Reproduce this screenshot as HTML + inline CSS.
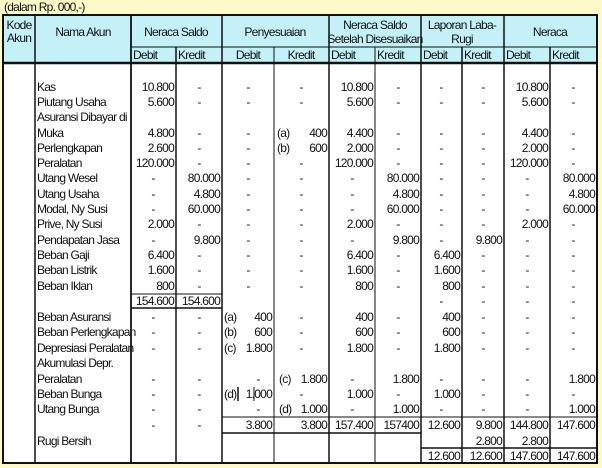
<!DOCTYPE html>
<html><head><meta charset="utf-8"><style>
body{margin:0;background:#fdf9c9;}
svg{display:block}
text{font-family:"Liberation Sans",Arial,sans-serif;font-size:12px;letter-spacing:-0.75px;fill:#111}
.n{text-anchor:end}.d{text-anchor:middle}.h{font-size:12px}
</style></head><body>
<svg width="602" height="468" viewBox="0 0 602 468" xmlns="http://www.w3.org/2000/svg">
<rect width="602" height="468" fill="#fdf9c9"/>
<text x="4" y="11">(dalam Rp. 000,-)</text>
<rect x="3" y="15" width="594" height="448" fill="#fff"/>
<rect x="3" y="15" width="594" height="48" fill="#c4f1f8"/>
<g stroke="#111" stroke-width="1" fill="none">
<rect x="3" y="15" width="594" height="448" stroke-width="2"/>
<line x1="3" y1="63" x2="597" y2="63" stroke-width="2.5"/>
<line x1="131" y1="47" x2="597" y2="47"/>
<line x1="35" y1="15" x2="35" y2="463" stroke-width="1.5"/>
<line x1="131" y1="15" x2="131" y2="463" stroke-width="1.8"/>
<line x1="176" y1="47" x2="176" y2="463" stroke-width="1.5"/>
<line x1="222" y1="15" x2="222" y2="463" stroke-width="1.5"/>
<line x1="274" y1="47" x2="274" y2="463"/>
<line x1="329" y1="15" x2="329" y2="463" stroke-width="1.5"/>
<line x1="375" y1="47" x2="375" y2="463"/>
<line x1="421" y1="15" x2="421" y2="463" stroke-width="1.5"/>
<line x1="462" y1="47" x2="462" y2="463" stroke-width="1.5"/>
<line x1="504" y1="15" x2="504" y2="463" stroke-width="1.5"/>
<line x1="550" y1="47" x2="550" y2="463" stroke-width="1.5"/>
<line x1="131" y1="294" x2="222" y2="294"/>
<line x1="131" y1="308" x2="222" y2="308" stroke-width="1.5"/>
<line x1="222" y1="417" x2="597" y2="417"/>
<line x1="222" y1="433" x2="421" y2="433" stroke-width="1.5"/>
<line x1="421" y1="448" x2="597" y2="448" stroke-width="1.5"/>
<line x1="238" y1="387" x2="238" y2="401" stroke-width="1.5"/>
<line x1="254" y1="387" x2="254" y2="401"/>
</g>
<g class="h">
<text x="19" y="29" class="d">Kode</text><text x="19" y="42" class="d">Akun</text>
<text x="83" y="36" class="d">Nama Akun</text>
<text x="176" y="36" class="d">Neraca Saldo</text>
<text x="275" y="36" class="d">Penyesuaian</text>
<text x="375" y="29" class="d">Neraca Saldo</text><text x="375" y="43" class="d">Setelah Disesuaikan</text>
<text x="462" y="29" class="d">Laporan Laba-</text><text x="462" y="43" class="d">Rugi</text>
<text x="550" y="36" class="d">Neraca</text>
<text x="133" y="59">Debit</text><text x="178" y="59">Kredit</text>
<text x="248" y="59" class="d">Debit</text><text x="301" y="59" class="d">Kredit</text>
<text x="331" y="59">Debit</text><text x="377" y="59">Kredit</text>
<text x="423" y="59">Debit</text><text x="464" y="59">Kredit</text>
<text x="506" y="59">Debit</text><text x="552" y="59">Kredit</text>
</g>
<g>
<text x="37" y="91">Kas</text>
<text x="37" y="106">Piutang Usaha</text>
<text x="37" y="121">Asuransi Dibayar di</text>
<text x="37" y="137">Muka</text>
<text x="37" y="152">Perlengkapan</text>
<text x="37" y="167">Peralatan</text>
<text x="37" y="182">Utang Wesel</text>
<text x="37" y="198">Utang Usaha</text>
<text x="37" y="213">Modal, Ny Susi</text>
<text x="37" y="228">Prive, Ny Susi</text>
<text x="37" y="244">Pendapatan Jasa</text>
<text x="37" y="259">Beban Gaji</text>
<text x="37" y="274">Beban Listrik</text>
<text x="37" y="290">Beban Iklan</text>
<text x="37" y="321">Beban Asuransi</text>
<text x="37" y="336">Beban Perlengkapan</text>
<text x="37" y="352">Depresiasi Peralatan</text>
<text x="37" y="367">Akumulasi Depr.</text>
<text x="37" y="383">Peralatan</text>
<text x="37" y="398">Beban Bunga</text>
<text x="37" y="413">Utang Bunga</text>
<text x="37" y="445">Rugi Bersih</text>
</g>
<g>
<text x="174" y="91" class="n">10.800</text><text x="199" y="91" class="d">-</text><text x="248" y="91" class="d">-</text><text x="301" y="91" class="d">-</text><text x="373" y="91" class="n">10.800</text><text x="398" y="91" class="d">-</text><text x="441" y="91" class="d">-</text><text x="483" y="91" class="d">-</text><text x="548" y="91" class="n">10.800</text><text x="573" y="91" class="d">-</text>
<text x="174" y="106" class="n">5.600</text><text x="199" y="106" class="d">-</text><text x="248" y="106" class="d">-</text><text x="301" y="106" class="d">-</text><text x="373" y="106" class="n">5.600</text><text x="398" y="106" class="d">-</text><text x="441" y="106" class="d">-</text><text x="483" y="106" class="d">-</text><text x="548" y="106" class="n">5.600</text><text x="573" y="106" class="d">-</text>
<text x="174" y="137" class="n">4.800</text><text x="199" y="137" class="d">-</text><text x="248" y="137" class="d">-</text><text x="277" y="137">(a)</text><text x="327" y="137" class="n">400</text><text x="373" y="137" class="n">4.400</text><text x="398" y="137" class="d">-</text><text x="441" y="137" class="d">-</text><text x="483" y="137" class="d">-</text><text x="548" y="137" class="n">4.400</text><text x="573" y="137" class="d">-</text>
<text x="174" y="152" class="n">2.600</text><text x="199" y="152" class="d">-</text><text x="248" y="152" class="d">-</text><text x="277" y="152">(b)</text><text x="327" y="152" class="n">600</text><text x="373" y="152" class="n">2.000</text><text x="398" y="152" class="d">-</text><text x="441" y="152" class="d">-</text><text x="483" y="152" class="d">-</text><text x="548" y="152" class="n">2.000</text><text x="573" y="152" class="d">-</text>
<text x="174" y="167" class="n">120.000</text><text x="199" y="167" class="d">-</text><text x="248" y="167" class="d">-</text><text x="301" y="167" class="d">-</text><text x="373" y="167" class="n">120.000</text><text x="398" y="167" class="d">-</text><text x="441" y="167" class="d">-</text><text x="483" y="167" class="d">-</text><text x="548" y="167" class="n">120.000</text><text x="573" y="167" class="d">-</text>
<text x="153" y="182" class="d">-</text><text x="220" y="182" class="n">80.000</text><text x="248" y="182" class="d">-</text><text x="301" y="182" class="d">-</text><text x="352" y="182" class="d">-</text><text x="419" y="182" class="n">80.000</text><text x="441" y="182" class="d">-</text><text x="483" y="182" class="d">-</text><text x="527" y="182" class="d">-</text><text x="595" y="182" class="n">80.000</text>
<text x="153" y="198" class="d">-</text><text x="220" y="198" class="n">4.800</text><text x="248" y="198" class="d">-</text><text x="301" y="198" class="d">-</text><text x="352" y="198" class="d">-</text><text x="419" y="198" class="n">4.800</text><text x="441" y="198" class="d">-</text><text x="483" y="198" class="d">-</text><text x="527" y="198" class="d">-</text><text x="595" y="198" class="n">4.800</text>
<text x="153" y="213" class="d">-</text><text x="220" y="213" class="n">60.000</text><text x="248" y="213" class="d">-</text><text x="301" y="213" class="d">-</text><text x="352" y="213" class="d">-</text><text x="419" y="213" class="n">60.000</text><text x="441" y="213" class="d">-</text><text x="483" y="213" class="d">-</text><text x="527" y="213" class="d">-</text><text x="595" y="213" class="n">60.000</text>
<text x="174" y="228" class="n">2.000</text><text x="199" y="228" class="d">-</text><text x="248" y="228" class="d">-</text><text x="301" y="228" class="d">-</text><text x="373" y="228" class="n">2.000</text><text x="398" y="228" class="d">-</text><text x="441" y="228" class="d">-</text><text x="483" y="228" class="d">-</text><text x="548" y="228" class="n">2.000</text><text x="573" y="228" class="d">-</text>
<text x="153" y="244" class="d">-</text><text x="220" y="244" class="n">9.800</text><text x="248" y="244" class="d">-</text><text x="301" y="244" class="d">-</text><text x="352" y="244" class="d">-</text><text x="419" y="244" class="n">9.800</text><text x="441" y="244" class="d">-</text><text x="502" y="244" class="n">9.800</text><text x="527" y="244" class="d">-</text><text x="573" y="244" class="d">-</text>
<text x="174" y="259" class="n">6.400</text><text x="199" y="259" class="d">-</text><text x="248" y="259" class="d">-</text><text x="301" y="259" class="d">-</text><text x="373" y="259" class="n">6.400</text><text x="398" y="259" class="d">-</text><text x="460" y="259" class="n">6.400</text><text x="483" y="259" class="d">-</text><text x="527" y="259" class="d">-</text><text x="573" y="259" class="d">-</text>
<text x="174" y="274" class="n">1.600</text><text x="199" y="274" class="d">-</text><text x="248" y="274" class="d">-</text><text x="301" y="274" class="d">-</text><text x="373" y="274" class="n">1.600</text><text x="398" y="274" class="d">-</text><text x="460" y="274" class="n">1.600</text><text x="483" y="274" class="d">-</text><text x="527" y="274" class="d">-</text><text x="573" y="274" class="d">-</text>
<text x="174" y="290" class="n">800</text><text x="199" y="290" class="d">-</text><text x="248" y="290" class="d">-</text><text x="301" y="290" class="d">-</text><text x="373" y="290" class="n">800</text><text x="398" y="290" class="d">-</text><text x="460" y="290" class="n">800</text><text x="483" y="290" class="d">-</text><text x="527" y="290" class="d">-</text><text x="573" y="290" class="d">-</text>
<text x="174" y="305" class="n">154.600</text><text x="220" y="305" class="n">154.600</text><text x="441" y="305" class="d">-</text><text x="483" y="305" class="d">-</text><text x="527" y="305" class="d">-</text><text x="573" y="305" class="d">-</text>
<text x="153" y="321" class="d">-</text><text x="199" y="321" class="d">-</text><text x="224" y="321">(a)</text><text x="272" y="321" class="n">400</text><text x="301" y="321" class="d">-</text><text x="373" y="321" class="n">400</text><text x="398" y="321" class="d">-</text><text x="460" y="321" class="n">400</text><text x="483" y="321" class="d">-</text><text x="527" y="321" class="d">-</text><text x="573" y="321" class="d">-</text>
<text x="153" y="336" class="d">-</text><text x="199" y="336" class="d">-</text><text x="224" y="336">(b)</text><text x="272" y="336" class="n">600</text><text x="301" y="336" class="d">-</text><text x="373" y="336" class="n">600</text><text x="398" y="336" class="d">-</text><text x="460" y="336" class="n">600</text><text x="483" y="336" class="d">-</text><text x="527" y="336" class="d">-</text><text x="573" y="336" class="d">-</text>
<text x="153" y="352" class="d">-</text><text x="199" y="352" class="d">-</text><text x="224" y="352">(c)</text><text x="272" y="352" class="n">1.800</text><text x="301" y="352" class="d">-</text><text x="373" y="352" class="n">1.800</text><text x="398" y="352" class="d">-</text><text x="460" y="352" class="n">1.800</text><text x="483" y="352" class="d">-</text><text x="527" y="352" class="d">-</text><text x="573" y="352" class="d">-</text>
<text x="153" y="383" class="d">-</text><text x="199" y="383" class="d">-</text><text x="258" y="383" class="d">-</text><text x="279" y="383">(c)</text><text x="327" y="383" class="n">1.800</text><text x="352" y="383" class="d">-</text><text x="419" y="383" class="n">1.800</text><text x="441" y="383" class="d">-</text><text x="483" y="383" class="d">-</text><text x="527" y="383" class="d">-</text><text x="595" y="383" class="n">1.800</text>
<text x="153" y="398" class="d">-</text><text x="199" y="398" class="d">-</text><text x="224" y="398">(d)</text><text x="272" y="398" class="n">1.000</text><text x="301" y="398" class="d">-</text><text x="373" y="398" class="n">1.000</text><text x="398" y="398" class="d">-</text><text x="460" y="398" class="n">1.000</text><text x="483" y="398" class="d">-</text><text x="527" y="398" class="d">-</text><text x="573" y="398" class="d">-</text>
<text x="153" y="413" class="d">-</text><text x="199" y="413" class="d">-</text><text x="258" y="413" class="d">-</text><text x="279" y="413">(d)</text><text x="327" y="413" class="n">1.000</text><text x="352" y="413" class="d">-</text><text x="419" y="413" class="n">1.000</text><text x="441" y="413" class="d">-</text><text x="483" y="413" class="d">-</text><text x="527" y="413" class="d">-</text><text x="595" y="413" class="n">1.000</text>
<text x="153" y="429" class="d">-</text><text x="199" y="429" class="d">-</text><text x="272" y="429" class="n">3.800</text><text x="327" y="429" class="n">3.800</text><text x="373" y="429" class="n">157.400</text><text x="419" y="429" class="n">157400</text><text x="460" y="429" class="n">12.600</text><text x="502" y="429" class="n">9.800</text><text x="548" y="429" class="n">144.800</text><text x="595" y="429" class="n">147.600</text>
<text x="502" y="445" class="n">2.800</text><text x="548" y="445" class="n">2.800</text>
<text x="460" y="460" class="n">12.600</text><text x="502" y="460" class="n">12.600</text><text x="548" y="460" class="n">147.600</text><text x="595" y="460" class="n">147.600</text>
</g>
</svg>
</body></html>
